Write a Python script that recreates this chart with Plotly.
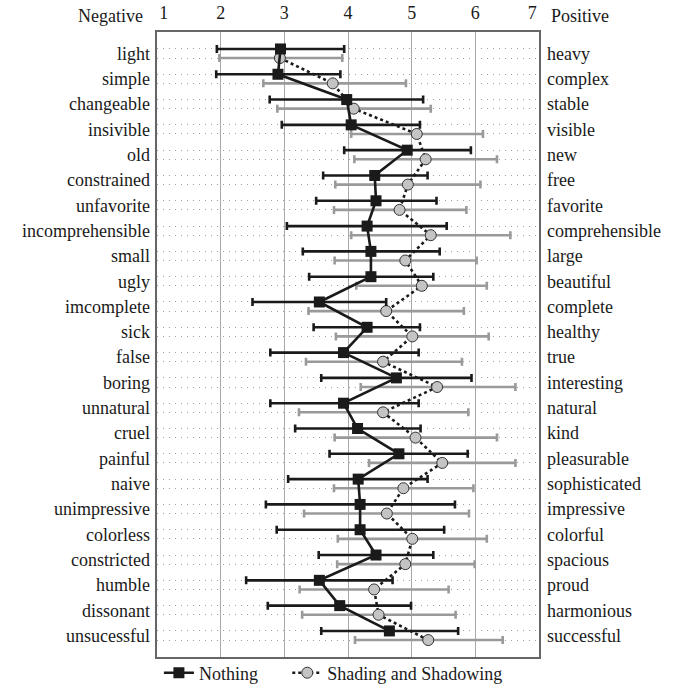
import plotly.graph_objects as go

negatives = ["light", "simple", "changeable", "insivible", "old", "constrained", "unfavorite",
             "incomprehensible", "small", "ugly", "imcomplete", "sick", "false", "boring",
             "unnatural", "cruel", "painful", "naive", "unimpressive", "colorless",
             "constricted", "humble", "dissonant", "unsucessful"]
positives = ["heavy", "complex", "stable", "visible", "new", "free", "favorite",
             "comprehensible", "large", "beautiful", "complete", "healthy", "true", "interesting",
             "natural", "kind", "pleasurable", "sophisticated", "impressive", "colorful",
             "spacious", "proud", "harmonious", "successful"]

nothing_mean = [2.94, 2.90, 3.98, 4.05, 4.93, 4.42, 4.44, 4.30, 4.36, 4.36, 3.55, 4.30,
                3.93, 4.76, 3.93, 4.15, 4.80, 4.16, 4.19, 4.19, 4.44, 3.55, 3.87, 4.65]
nothing_low = [1.94, 1.93, 2.77, 2.96, 3.94, 3.61, 3.50, 3.04, 3.29, 3.39, 2.50, 3.46,
               2.78, 3.58, 2.78, 3.17, 3.71, 3.06, 2.71, 2.88, 3.54, 2.40, 2.74, 3.58]
nothing_high = [3.94, 3.88, 5.18, 5.13, 5.93, 5.25, 5.39, 5.55, 5.44, 5.34, 4.60, 5.13,
                5.11, 5.94, 5.11, 5.14, 5.88, 5.25, 5.68, 5.51, 5.34, 4.70, 4.99, 5.73]

shading_mean = [2.93, 3.76, 4.09, 5.08, 5.22, 4.94, 4.81, 5.30, 4.90, 5.16, 4.60, 5.01,
                4.55, 5.40, 4.55, 5.06, 5.48, 4.87, 4.61, 5.01, 4.90, 4.41, 4.48, 5.26]
shading_low = [1.98, 2.67, 2.89, 4.05, 4.10, 3.80, 3.78, 4.05, 3.79, 4.13, 3.38, 3.81,
               3.34, 4.20, 3.23, 3.79, 4.33, 3.78, 3.31, 3.84, 3.83, 3.24, 3.28, 4.11]
shading_high = [3.91, 4.91, 5.30, 6.12, 6.34, 6.08, 5.86, 6.55, 6.02, 6.18, 5.82, 6.21,
                5.79, 6.63, 5.89, 6.34, 6.63, 5.97, 5.90, 6.18, 5.99, 5.58, 5.69, 6.43]

scale_ticks = [1, 2, 3, 4, 5, 6, 7]
scale_text = ["\u00a0\u00a0\u00a01", "2", "3", "4", "5", "6", "7\u00a0\u00a0\u00a0"]

FONT = "Liberation Serif, Times New Roman, serif"
off = 0.18
idx = list(range(len(negatives)))
y_black = [i - off for i in idx]
y_gray = [i + off for i in idx]

fig = go.Figure()

fig.add_trace(go.Scatter(
    x=shading_mean, y=y_gray, name="Shading and Shadowing", mode="lines+markers",
    line=dict(color="#1a1a1a", width=2.6, dash="dot"),
    marker=dict(symbol="circle", size=11, color="#c4c4c4", line=dict(color="#333333", width=1)),
    error_x=dict(type="data", symmetric=False,
                 array=[h - m for h, m in zip(shading_high, shading_mean)],
                 arrayminus=[m - l for m, l in zip(shading_mean, shading_low)],
                 color="#9a9a9a", thickness=2.6, width=4),
    legend="legend2",
))
fig.add_trace(go.Scatter(
    x=nothing_mean, y=y_black, name="Nothing", mode="lines+markers",
    line=dict(color="#1a1a1a", width=2.6),
    marker=dict(symbol="square", size=11, color="#1a1a1a"),
    error_x=dict(type="data", symmetric=False,
                 array=[h - m for h, m in zip(nothing_high, nothing_mean)],
                 arrayminus=[m - l for m, l in zip(nothing_mean, nothing_low)],
                 color="#1a1a1a", thickness=2.6, width=4),
    legend="legend",
))

yr = [23.85, -0.85]
leg_common = dict(orientation="h", xanchor="left", y=-0.0256, yanchor="middle",
                  font=dict(size=18), itemwidth=30, bgcolor="rgba(0,0,0,0)")
fig.update_layout(
    width=681, height=685,
    margin=dict(l=157, r=142, t=32, b=28, autoexpand=False),
    plot_bgcolor="white", paper_bgcolor="white",
    font=dict(family=FONT, size=18, color="#1a1a1a"),
    showlegend=True,
    legend=dict(x=0.005, **leg_common),
    legend2=dict(x=0.341, **leg_common),
    xaxis=dict(range=[1, 7], side="top", tickvals=scale_ticks, ticktext=scale_text,
               showgrid=True, gridcolor="#a8a8a8", gridwidth=1, zeroline=False,
               showline=True, mirror=True, linecolor="#666666", linewidth=1.5,
               ticks="", ticklabelstandoff=4, tickfont=dict(size=18), automargin=False),
    yaxis=dict(range=yr, tickvals=y_black + y_gray, showticklabels=False,
               showgrid=True, gridcolor="#a0a0a0", gridwidth=1, griddash="1px,5px",
               zeroline=False, showline=True, mirror=True, linecolor="#666666",
               linewidth=1.5, ticks="", automargin=False),
    yaxis2=dict(range=yr, overlaying="y", side="left", tickvals=idx, ticktext=negatives,
                showgrid=False, zeroline=False, ticks="", ticklabelstandoff=6,
                tickfont=dict(size=18), automargin=False),
    yaxis3=dict(range=yr, overlaying="y", side="right", tickvals=idx, ticktext=positives,
                showgrid=False, zeroline=False, ticks="", ticklabelstandoff=7,
                tickfont=dict(size=18), automargin=False),
)
# invisible helper traces so the label axes y2/y3 are drawn
fig.add_trace(go.Scatter(x=[None], y=[None], yaxis="y2", showlegend=False, hoverinfo="skip"))
fig.add_trace(go.Scatter(x=[None], y=[None], yaxis="y3", showlegend=False, hoverinfo="skip"))

fig.add_annotation(text="Negative", xref="paper", yref="paper", x=-0.031, y=1.0256,
                   xanchor="right", yanchor="middle", showarrow=False, font=dict(size=18))
fig.add_annotation(text="Positive", xref="paper", yref="paper", x=1.025, y=1.0256,
                   xanchor="left", yanchor="middle", showarrow=False, font=dict(size=18))

fig.write_html("out.html")
